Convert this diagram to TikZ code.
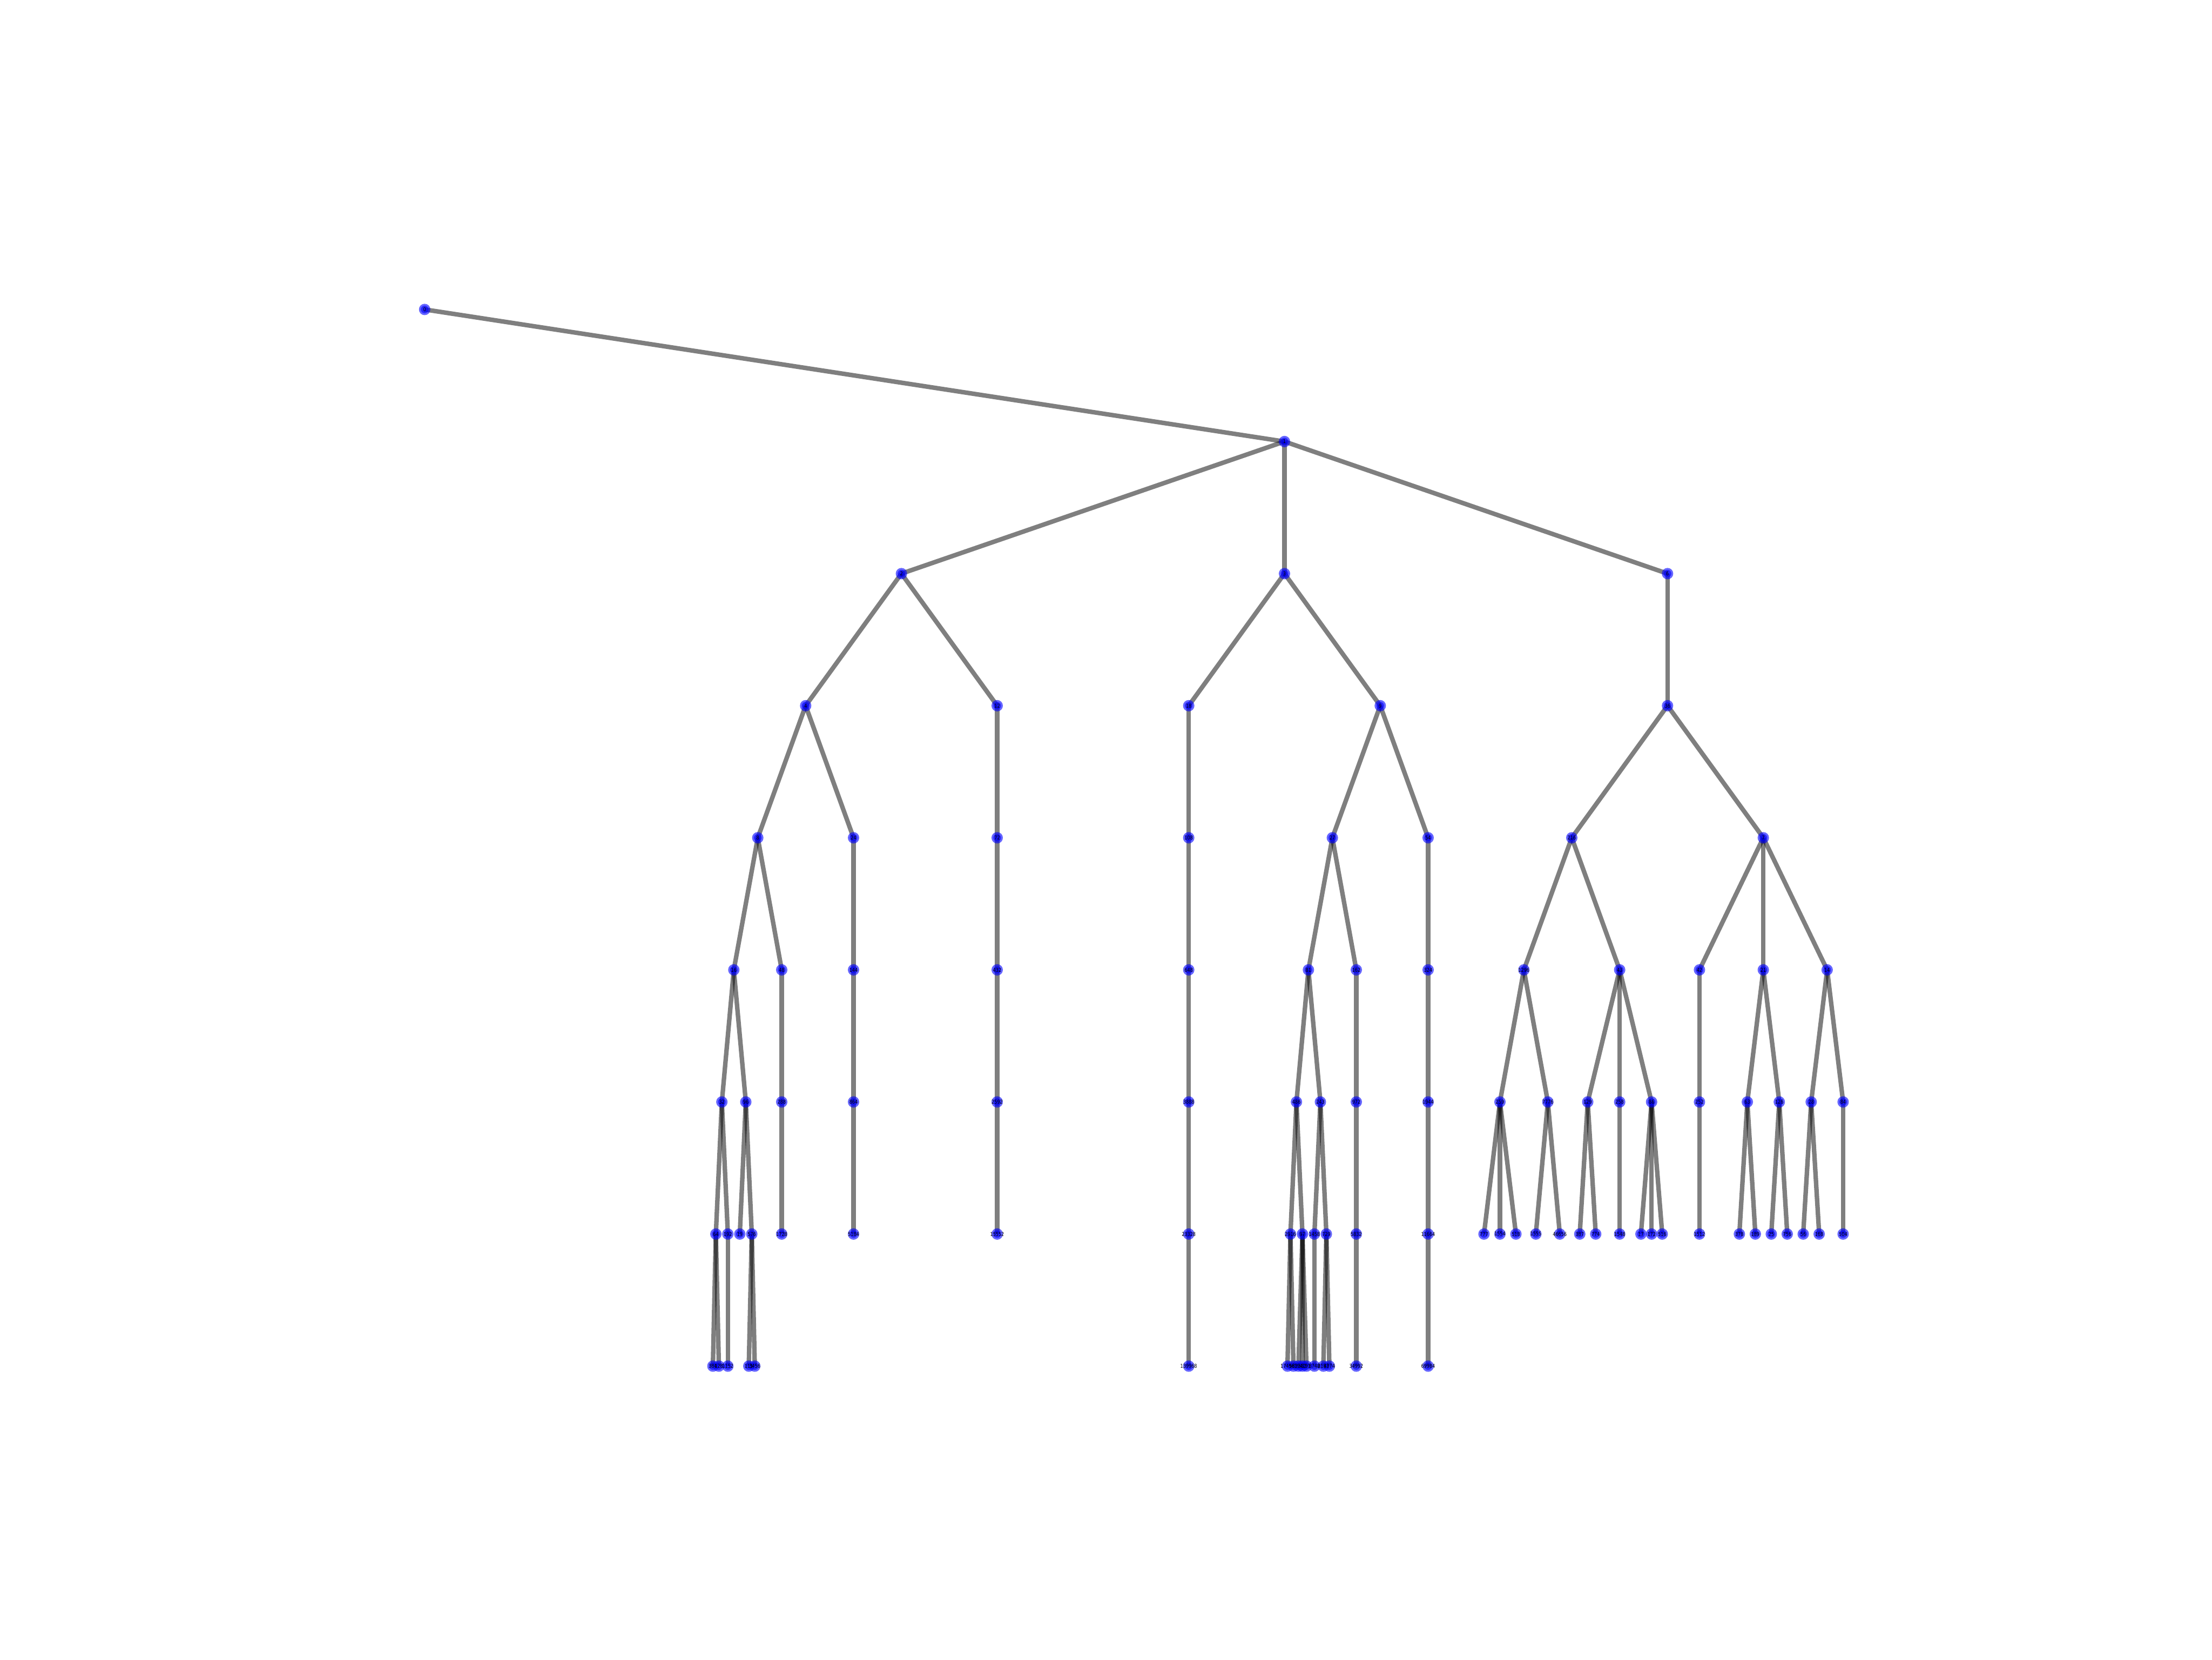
\documentclass[tikz,border=0pt]{standalone}
\usepackage{fontspec}
\newfontfamily\vfont[FakeStretch=0.82]{DejaVu Sans}
\pgfdeclarelayer{background}
\pgfdeclarelayer{foreground}
\pgfsetlayers{background,main,foreground}
\tikzset{
  tree vertex/.style={
    circle,
    inner sep=0pt,
    minimum size=3.3mm,
    fill=blue,
    fill opacity=0.6,
    path picture={\fill[blue,fill opacity=0.6] (path picture bounding box.center) circle[radius=1.1mm];},
  },
  tree label/.style={font=\vfont\fontsize{4.4pt}{5pt}\selectfont, inner sep=0pt, text=black},
  tree link/.style={draw=black, draw opacity=0.5, line width=1.3mm},
}
\def\vertices{0/-0.24822/0, 1/0.5/1,
  2/0.166667/2, 3/0.5/2, 6/0.833333/2,
  4/0.083333/3, 12/0.25/3, 18/0.416667/3, 9/0.583333/3, 36/0.833333/3,
  8/0.041667/4, 24/0.125/4, 72/0.25/4, 108/0.416667/4, 27/0.541667/4, 54/0.625/4, 216/0.75/4, 7/0.916667/4,
  16/0.020833/5, 48/0.0625/5, 144/0.125/5, 432/0.25/5, 648/0.416667/5, 81/0.520833/5, 162/0.5625/5, 324/0.625/5,
  1296/0.708333/5, 43/0.791667/5, 42/0.861111/5, 21/0.916667/5, 14/0.972222/5,
  32/0.010417/6, 96/0.03125/6, 288/0.0625/6, 864/0.125/6, 2592/0.25/6, 3888/0.416667/6, 486/0.510417/6,
  243/0.53125/6, 972/0.5625/6, 1944/0.625/6, 259/0.6875/6, 7776/0.729167/6, 129/0.763889/6, 258/0.791667/6,
  86/0.819444/6, 252/0.861111/6, 63/0.902778/6, 126/0.930556/6, 28/0.958333/6, 84/0.986111/6,
  64/0.005208/7, 192/0.015625/7, 19/0.026042/7, 576/0.036458/7, 1728/0.0625/7, 5184/0.125/7, 15552/0.25/7,
  23328/0.416667/7, 2916/0.505208/7, 97/0.515625/7, 1458/0.526042/7, 729/0.536458/7, 5832/0.5625/7,
  11664/0.625/7, 777/0.673611/7, 1554/0.6875/7, 518/0.701389/7, 1555/0.71875/7, 46656/0.739583/7,
  387/0.756944/7, 774/0.770833/7, 1548/0.791667/7, 17/0.810185/7, 172/0.819444/7, 516/0.828704/7,
  1512/0.861111/7, 378/0.895833/7, 189/0.909722/7, 25/0.923611/7, 756/0.9375/7, 56/0.951389/7,
  168/0.965278/7, 504/0.986111/7,
  384/0.002604/8, 128/0.007813/8, 1152/0.015625/8, 115/0.033854/8, 3456/0.039063/8, 139968/0.416667/8,
  17496/0.502604/8, 583/0.507813/8, 194/0.512153/8, 582/0.515625/8, 291/0.519097/8, 8748/0.526042/8,
  2187/0.533854/8, 4374/0.539063/8, 34992/0.5625/8, 69984/0.625/8}
\begin{document}
\begin{tikzpicture}
  \useasboundingbox (0,0) rectangle (64,-48);
  \begin{pgfonlayer}{background}
    \fill[white] (0,0) rectangle (64,-48);
  \end{pgfonlayer}
  \begin{scope}[xshift=20.539cm, yshift=-8.951cm, x=33.249cm, y=-3.8204cm]
    \foreach \nm/\fx/\lv in \vertices
      \node[tree vertex] (v\nm) at (\fx,\lv) {};
  \end{scope}
  \begin{pgfonlayer}{background}
    \foreach \a/\b in {0/1, 1/2, 1/3, 1/6, 2/4, 2/12, 3/18, 3/9, 6/36, 4/8, 4/24, 12/72, 18/108, 9/27, 9/54,
      36/216, 36/7, 8/16, 8/48, 24/144, 72/432, 108/648, 27/81, 27/162, 54/324, 216/1296, 216/43,
      7/42, 7/21, 7/14, 16/32, 16/96, 48/288, 144/864, 432/2592, 648/3888, 81/486, 81/243, 162/972,
      324/1944, 1296/259, 1296/7776, 43/129, 43/258, 43/86, 42/252, 21/63, 21/126, 14/28, 14/84,
      32/64, 32/192, 96/19, 96/576, 288/1728, 864/5184, 2592/15552, 3888/23328, 486/2916, 486/97,
      243/1458, 243/729, 972/5832, 1944/11664, 259/777, 259/1554, 259/518, 7776/1555, 7776/46656,
      129/387, 129/774, 258/1548, 86/17, 86/172, 86/516, 252/1512, 63/378, 63/189, 126/25, 126/756,
      28/56, 28/168, 84/504, 64/384, 64/128, 192/1152, 576/115, 576/3456, 23328/139968,
      2916/17496, 2916/583, 97/194, 97/582, 97/291, 1458/8748, 729/2187, 729/4374,
      5832/34992, 11664/69984}
      \draw[tree link] (v\a.center) -- (v\b.center);
  \end{pgfonlayer}
  \begin{pgfonlayer}{foreground}
    \foreach \nm/\fx/\lv in \vertices
      \node[tree label] at (v\nm) {\nm};
  \end{pgfonlayer}
\end{tikzpicture}
\end{document}
